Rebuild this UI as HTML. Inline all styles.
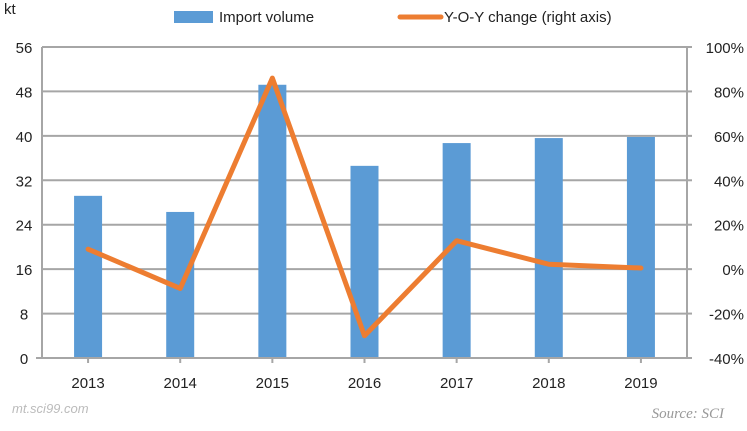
<!DOCTYPE html>
<html><head><meta charset="utf-8"><style>
body{margin:0;background:#fff;}
svg text{font-family:"Liberation Sans",sans-serif;}
</style></head><body>
<svg width="747" height="426" viewBox="0 0 747 426" xmlns="http://www.w3.org/2000/svg">
<g id="grid"></g>
<g id="bars"></g>
<g id="axes"></g>
<g id="line"></g>
<text x="4" y="14" font-size="15" fill="#222">kt</text>
<rect x="174" y="11" width="39" height="12" fill="#5b9bd5"/>
<text x="219" y="22" font-size="15" fill="#222">Import volume</text>
<line x1="400" y1="17" x2="441" y2="17" stroke="#ed7d31" stroke-width="5" stroke-linecap="round"/>
<text x="444" y="22" font-size="15" fill="#222">Y-O-Y change (right axis)</text>
<text x="12" y="413" font-size="13" fill="#bbb" font-style="italic" font-family="Liberation Serif">mt.sci99.com</text>
<text x="724" y="418" font-size="15" fill="#999" font-style="italic" text-anchor="end" font-family="Liberation Serif" style="font-family:'Liberation Serif',serif">Source: SCI</text>
</svg>
<script>
const categories=["2013","2014","2015","2016","2017","2018","2019"];
const importVolume=[29.2,26.3,49.2,34.6,38.7,39.6,39.8];
const yoyChange=[9,-8.7,86,-30,12.8,2.2,0.5];
const leftTicks=[0,8,16,24,32,40,48,56];
const rightTicks=[-40,-20,0,20,40,60,80,100];
const NS="http://www.w3.org/2000/svg";
const X0=42,X1=687,Y0=358,Y1=47;
const band=(X1-X0)/categories.length;
const xc=i=>X0+band*(i+0.5);
const yl=v=>Y0-(v-0)/(56-0)*(Y0-Y1);
const yr=v=>Y0-(v+40)/(140)*(Y0-Y1);
function mk(tag,attrs,parent){const e=document.createElementNS(NS,tag);for(const k in attrs)e.setAttribute(k,attrs[k]);document.getElementById(parent).appendChild(e);return e;}
leftTicks.forEach(t=>{
  if(t>0){const g=mk('line',{x1:X0,x2:X1,y1:yl(t),y2:yl(t),stroke:'#a6a6a6','stroke-width':2},'grid');
  
  }
  const tx=mk('text',{x:X0-18,y:yl(t)+6,'font-size':15,fill:'#222','text-anchor':'middle'},'axes');tx.textContent=t;
  
  
});
rightTicks.forEach(t=>{
  const tk=mk('line',{x1:X1,x2:X1+5,y1:yr(t),y2:yr(t),stroke:'#a6a6a6','stroke-width':2},'axes');
  
  
  const tx=mk('text',{x:X1+57,y:yr(t)+6,'font-size':15,fill:'#222','text-anchor':'end'},'axes');tx.textContent=t+'%';
  
  
});
importVolume.forEach((v,i)=>{
  const r=mk('rect',{x:xc(i)-14,y:yl(v),width:28,height:Y0-yl(v),fill:'#5b9bd5'},'bars');
  
  
  const tk=mk('line',{x1:xc(i),x2:xc(i),y1:Y0,y2:Y0+5,stroke:'#a6a6a6','stroke-width':2},'axes');
  
  
  const tx=mk('text',{x:xc(i),y:388,'font-size':15,fill:'#222','text-anchor':'middle'},'axes');tx.textContent=categories[i];
  
  
});
const la=mk('line',{x1:X0,x2:X0,y1:Y1,y2:Y0,stroke:'#a6a6a6','stroke-width':2},'axes');


const ra=mk('line',{x1:X1,x2:X1,y1:Y1,y2:Y0,stroke:'#a6a6a6','stroke-width':2},'axes');


const xa=mk('line',{x1:36,x2:X1,y1:Y0,y2:Y0,stroke:'#a6a6a6','stroke-width':2},'axes');


const p=mk('polyline',{points:yoyChange.map((v,i)=>xc(i)+','+yr(v)).join(' '),fill:'none',stroke:'#ed7d31','stroke-width':5,'stroke-linejoin':'round','stroke-linecap':'round'},'line');


</script>
</body></html>
